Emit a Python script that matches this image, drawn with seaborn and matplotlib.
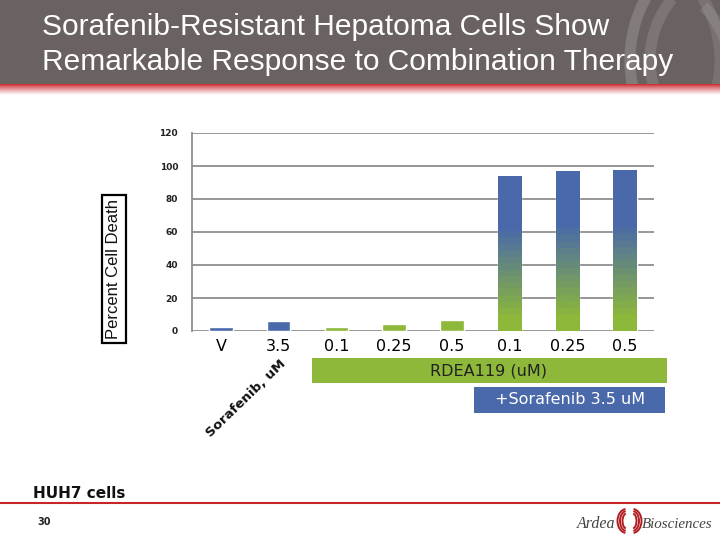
import numpy as np
import pandas as pd
import matplotlib
matplotlib.use("Agg")
import matplotlib.pyplot as plt
import seaborn as sns
from matplotlib.patches import Rectangle, Arc
from matplotlib.colors import to_rgb

# ---- data ----
categories = ["V", "3.5", "0.1", "0.25", "0.5", "0.1 ", "0.25 ", "0.5 "]
tick_labels = ["V", "3.5", "0.1", "0.25", "0.5", "0.1", "0.25", "0.5"]
cell_death = [2.5, 5.9, 2.4, 4.4, 6.5, 94.1, 97.0, 97.6]
groups = ["sorafenib", "sorafenib", "rdea", "rdea", "rdea", "combo", "combo", "combo"]
y_ticks = [0, 20, 40, 60, 80, 100, 120]

title_lines = ["Sorafenib-Resistant Hepatoma Cells Show",
               "Remarkable Response to Combination Therapy"]

BLUE = "#4a69aa"
GREEN = "#8db83a"
GRID = "#8f8f8f"

sns.set_theme(style="white")
plt.rcParams["font.family"] = ["DejaVu Sans"]

fig = plt.figure(figsize=(7.2, 5.4), dpi=100)
fig.patch.set_facecolor("white")

# ---- header ----
hdr = fig.add_axes([0, 1 - 84 / 540, 1, 84 / 540])
hdr.set_xlim(0, 720)
hdr.set_ylim(84, 0)
hdr.axis("off")
hdr.add_patch(Rectangle((0, 0), 720, 84, facecolor="#6a6260", edgecolor="none"))
for cx, cy, r, t1, t2, a in [(760, 60, 130, 150, 215, 0.16),
                             (745, 60, 95, 140, 220, 0.12),
                             (600, 60, 120, -40, 40, 0.10),
                             (640, 70, 90, -45, 30, 0.10)]:
    hdr.add_patch(Arc((cx, cy), 2 * r, 2 * r, theta1=t1, theta2=t2,
                      color="white", alpha=a, lw=8))
for txt, yb in zip(title_lines, [35, 70]):
    hdr.text(42, yb, txt, color="white", fontsize=21.5, family="Liberation Sans",
             va="baseline", ha="left")

# red stripe
strip = fig.add_axes([0, 1 - 95 / 540, 1, 11 / 540])
strip.axis("off")
gvals = np.linspace(0, 1, 60)
red = np.array(to_rgb("#c8242a"))
cols = np.array([red * (1 - g) + np.ones(3) * g for g in gvals ** 0.8])
strip.imshow(cols[:, None, :].repeat(10, axis=1), aspect="auto", extent=[0, 1, 1, 0])

# ---- chart ----
ax = fig.add_axes([192 / 720, 1 - 331 / 540, 462 / 720, 198 / 540])
df = pd.DataFrame({"cat": categories, "val": cell_death, "grp": groups})
palette = {"sorafenib": BLUE, "rdea": GREEN, "combo": BLUE}
sns.barplot(data=df, x="cat", y="val", hue="grp", palette=palette, dodge=False,
            width=0.41, legend=False, ax=ax, saturation=1)

ax.set_ylim(0, 120)
ax.set_xlim(-0.5, 7.5)
ax.set_yticks(y_ticks)
ax.set_yticklabels([str(t) for t in y_ticks], fontsize=6.5, fontweight="bold",
                   color="#222222")
ax.set_xticks(range(len(categories)))
ax.set_xticklabels(tick_labels, fontsize=11.5, color="#000000")
ax.tick_params(axis="y", length=4, width=1.2, color=GRID, pad=6)
ax.tick_params(axis="x", length=0, pad=6)
ax.yaxis.grid(True, color=GRID, lw=1.3)
ax.set_axisbelow(True)
for s in ["top", "right", "bottom"]:
    ax.spines[s].set_visible(False)
ax.spines["left"].set_color(GRID)
ax.spines["left"].set_linewidth(1.3)
ax.set_xlabel("")
ax.set_ylabel("")
ax.patch.set_alpha(0)

# gradient on combination bars
blue_rgb = np.array(to_rgb(BLUE))
green_rgb = np.array(to_rgb(GREEN))
nb = 14
fr = np.linspace(0, 1, 200)
t = np.clip((fr - 0.06) / (0.64 - 0.06), 0, 1)
t = np.floor(t * nb) / nb
colarr = np.array([green_rgb * (1 - x) + blue_rgb * x for x in t])
bars = [p for p in ax.patches if isinstance(p, Rectangle) and p.get_height() > 0]
bars = sorted(bars, key=lambda p: p.get_x())
for p, g in zip(bars, groups):
    if g == "combo":
        x0, w, h = p.get_x(), p.get_width(), p.get_height()
        im = ax.imshow(colarr[::-1, None, :], aspect="auto",
                       extent=[x0, x0 + w, 0, h], zorder=p.get_zorder() + 0.1)
        im.set_clip_path(p)
ax.set_xlim(-0.5, 7.5)
ax.set_ylim(0, 120)

# y label with box
fig.text(114 / 720, 1 - 269 / 540, "Percent Cell Death", rotation=90,
         fontsize=12, family="Liberation Sans", color="#111111",
         ha="center", va="center",
         bbox=dict(boxstyle="square,pad=0.25", fc="white", ec="black", lw=1.6))

# overlay in pixel coordinates
ov2 = fig.add_axes([0, 0, 1, 1])
ov2.set_xlim(0, 720)
ov2.set_ylim(540, 0)
ov2.axis("off")
ov2.patch.set_alpha(0)
ov2.add_patch(Rectangle((312, 358), 355, 25, facecolor=GREEN, edgecolor="none"))
ov2.text(489, 370.5, "RDEA119 (uM)", fontsize=11.5, color="#222222",
         ha="center", va="center")
ov2.add_patch(Rectangle((474, 387), 191, 26, facecolor=BLUE, edgecolor="none"))
ov2.text(570, 400, "+Sorafenib 3.5 uM", fontsize=11.5, color="white",
         ha="center", va="center")
ov2.text(246, 398, "Sorafenib, uM", fontsize=9.5, fontweight="bold",
         color="#111111", rotation=44, rotation_mode="anchor",
         ha="center", va="center")

# footer
ov2.text(33, 498, "HUH7 cells", fontsize=11, fontweight="bold", color="#111111",
         ha="left", va="baseline")
ov2.plot([0, 720], [503, 503], color="#c8242a", lw=1.5)
ov2.text(37, 522, "30", fontsize=7, fontweight="bold", color="#222222",
         ha="left", va="center")
ov2.text(615, 524, "Ardea", fontsize=11.5, style="italic", color="#444444",
         family="Liberation Serif", ha="right", va="center")
ov2.text(642, 524, "Biosciences", fontsize=10.8, style="italic", color="#444444",
         family="Liberation Serif", ha="left", va="center")
for r, hh in [(9, 24), (6.5, 20), (4, 15)]:
    ov2.add_patch(Arc((626.5, 521), 2 * r, hh, theta1=95, theta2=265,
                      color="#b01c22", lw=1.4))
    ov2.add_patch(Arc((632.5, 521), 2 * r, hh, theta1=-85, theta2=85,
                      color="#b01c22", lw=1.4))

fig.savefig("out.png", dpi=100)
